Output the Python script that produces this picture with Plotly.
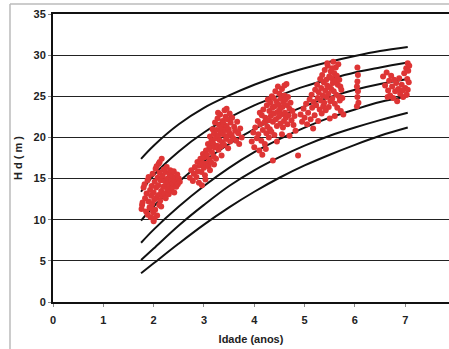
import plotly.graph_objects as go

# Site-index curves (ages and heights)
curve_ages = [1.75, 2.0, 2.5, 3.0, 3.5, 4.0, 4.5, 5.0, 5.5, 6.0, 6.5, 7.05]
curve_1 = [17.4, 19.0, 21.6, 23.6, 25.1, 26.4, 27.5, 28.4, 29.2, 29.9, 30.5, 31.0]
curve_2 = [13.4, 15.4, 18.3, 20.6, 22.4, 23.9, 25.1, 26.2, 27.1, 27.9, 28.5, 29.1]
curve_3 = [9.9, 11.6, 14.6, 17.1, 19.2, 21.0, 22.5, 23.8, 24.9, 25.8, 26.5, 27.1]
curve_4 = [7.2, 8.8, 11.6, 14.1, 16.3, 18.2, 19.8, 21.2, 22.4, 23.4, 24.3, 25.0]
curve_5 = [5.1, 6.5, 9.3, 11.8, 14.1, 16.0, 17.6, 19.0, 20.2, 21.2, 22.1, 23.0]
curve_6 = [3.5, 4.7, 7.1, 9.4, 11.5, 13.4, 15.1, 16.6, 17.9, 19.1, 20.2, 21.2]

# Observed plots: age (anos) and dominant height Hd (m)
obs_age = [
    1.76,1.77,1.78,1.80,1.82,1.83,1.85,1.86,1.88,1.88,1.90,1.90,1.92,1.93,1.94,1.95,1.96,1.97,1.98,1.99,
    2.00,2.00,2.01,2.02,2.03,2.04,2.05,2.06,2.07,2.08,2.09,2.10,2.10,2.11,2.12,2.13,2.14,2.15,2.16,2.17,
    2.18,2.19,2.20,2.21,2.22,2.23,2.24,2.25,2.26,2.27,2.28,2.29,2.30,2.31,2.32,2.33,2.34,2.35,2.36,2.37,
    2.38,2.40,2.41,2.42,2.44,2.45,2.47,2.48,2.50,2.52,2.12,2.06,1.95,2.02,2.15,
    2.72,2.75,2.78,2.80,2.82,2.85,2.87,2.88,2.90,2.92,2.93,2.95,2.97,2.98,3.00,3.01,3.02,3.04,3.05,3.06,
    3.08,3.09,3.10,3.11,3.12,3.13,3.14,3.15,3.16,3.17,3.18,3.19,3.20,3.21,3.22,3.23,3.24,3.25,3.26,3.27,
    3.28,3.29,3.30,3.31,3.32,3.33,3.34,3.35,3.36,3.37,3.38,3.39,3.40,3.41,3.42,3.43,3.44,3.45,3.46,3.47,
    3.48,3.49,3.50,3.51,3.52,3.53,3.55,3.56,3.58,3.60,3.62,3.64,3.66,3.68,3.70,3.72,3.75,3.12,3.20,3.35,
    3.03,2.96,3.28,3.45,
    3.95,3.98,4.00,4.02,4.05,4.07,4.08,4.10,4.12,4.14,4.15,4.17,4.18,4.20,4.21,4.22,4.24,4.25,4.26,4.27,
    4.28,4.29,4.30,4.31,4.32,4.33,4.34,4.35,4.36,4.37,4.37,4.38,4.39,4.40,4.41,4.42,4.43,4.44,4.45,4.46,
    4.47,4.48,4.49,4.50,4.51,4.52,4.53,4.54,4.55,4.56,4.57,4.58,4.59,4.60,4.61,4.62,4.63,4.64,4.65,4.66,
    4.67,4.68,4.70,4.72,4.74,4.76,4.78,4.80,4.82,4.87,4.16,4.23,4.11,4.45,4.55,4.70,4.60,
    4.92,4.95,4.98,5.00,5.03,5.05,5.07,5.10,5.12,5.14,5.15,5.17,5.18,5.20,5.21,5.23,5.25,5.26,5.27,5.28,
    5.30,5.31,5.32,5.33,5.34,5.35,5.36,5.37,5.38,5.39,5.40,5.41,5.42,5.43,5.44,5.45,5.46,5.47,5.48,5.49,
    5.50,5.51,5.52,5.53,5.54,5.55,5.56,5.57,5.58,5.59,5.60,5.61,5.62,5.63,5.64,5.65,5.66,5.67,5.68,5.69,
    5.70,5.71,5.72,5.73,5.75,5.77,5.60,5.50,5.45,5.55,
    6.05,6.06,6.05,6.04,6.06,6.05,6.07,6.04,
    6.56,6.60,6.63,6.66,6.68,6.70,6.72,6.74,6.76,6.78,6.80,6.82,6.84,6.86,6.88,6.90,6.93,6.96,6.98,7.00,
    7.02,7.03,7.04,7.05,7.06,7.07,7.05,7.08,6.95,6.65,
]
obs_hd = [
    11.3,11.8,12.1,13.9,14.3,12.6,11.0,13.2,10.6,14.8,12.2,15.2,11.5,13.6,10.3,12.9,14.1,11.9,15.6,10.9,
    9.8,13.3,12.4,14.6,11.2,16.2,13.9,12.7,10.5,15.1,14.2,13.0,16.8,11.8,15.7,12.3,14.8,13.5,17.4,12.9,
    15.3,14.0,16.1,13.2,14.7,15.8,12.6,14.3,16.4,13.7,15.0,14.5,13.1,15.6,14.1,16.0,13.5,14.8,15.3,13.9,
    14.4,15.9,13.3,14.7,15.2,14.0,15.5,14.3,15.0,14.6,17.0,16.5,11.4,10.2,11.6,
    15.1,16.0,14.7,15.6,16.4,15.2,17.0,15.9,14.5,16.6,17.4,15.8,16.9,18.0,16.3,17.6,15.4,18.4,16.8,17.9,
    19.2,16.5,18.6,17.3,20.1,18.9,17.0,19.6,18.2,21.0,19.3,17.7,20.5,18.8,21.8,19.9,17.4,20.9,19.0,22.3,
    20.2,18.5,21.5,19.7,22.8,20.7,18.9,21.2,19.4,22.0,20.4,21.7,19.1,23.3,20.9,22.5,19.8,21.4,20.1,22.2,
    18.7,21.0,20.6,22.9,19.5,21.8,20.3,22.4,19.9,21.3,20.8,19.6,21.9,20.5,19.2,21.1,20.0,16.0,16.7,17.8,
    14.9,14.2,23.0,23.5,
    19.5,20.6,18.8,21.2,19.9,22.0,20.4,18.4,21.6,19.6,22.7,20.9,23.4,21.8,19.2,22.4,20.5,23.9,21.3,24.6,
    22.1,20.0,23.2,21.0,24.2,22.6,20.7,25.0,23.6,17.2,21.9,24.8,22.9,20.3,23.8,25.6,22.2,24.4,21.4,23.1,
    26.2,24.0,22.5,25.3,23.4,21.7,24.7,22.8,25.9,23.7,21.2,24.3,22.0,25.1,23.0,24.6,22.4,26.5,23.9,21.6,
    24.9,22.7,23.5,24.2,22.1,23.2,21.5,22.6,20.8,17.8,17.9,18.6,23.0,19.5,20.4,20.2,26.3,
    22.8,21.9,23.5,22.4,24.1,21.6,23.0,24.6,22.2,25.2,23.6,21.1,24.3,22.7,25.8,23.9,26.4,24.8,22.0,25.5,
    23.4,27.1,24.5,26.0,22.9,27.6,25.1,23.8,26.7,24.2,28.2,25.7,23.3,27.0,24.9,26.3,28.7,25.3,23.7,27.4,
    26.1,24.4,28.0,25.9,27.2,24.7,26.6,29.2,25.6,27.8,24.1,26.9,28.5,25.2,27.5,23.6,26.4,28.9,25.0,27.0,
    24.5,26.2,23.2,25.8,24.8,22.8,22.6,22.3,29.0,28.4,
    28.5,27.6,26.8,26.2,25.6,24.9,24.2,23.8,
    27.4,26.3,27.9,25.7,26.9,25.1,27.5,26.2,24.8,27.0,25.6,26.6,24.4,25.9,27.2,25.3,26.4,24.9,27.8,26.0,
    28.4,25.2,27.1,29.0,28.1,26.7,25.8,28.7,25.7,24.9,
]

x_ticks = [0, 1, 2, 3, 4, 5, 6, 7]
y_ticks = [0, 5, 10, 15, 20, 25, 30, 35]

fig = go.Figure()

for c in [curve_1, curve_2, curve_3, curve_4, curve_5, curve_6]:
    fig.add_trace(go.Scatter(x=curve_ages, y=c, mode="lines",
                             line=dict(color="#111111", width=2, shape="spline"),
                             hoverinfo="skip", showlegend=False))

fig.add_trace(go.Scatter(x=obs_age, y=obs_hd, mode="markers",
                         marker=dict(color="#DE3535", size=6, line=dict(width=0)),
                         showlegend=False))

tick_font = dict(family="Liberation Sans, Arial, sans-serif", size=11, color="#222222", weight="bold")

fig.update_layout(
    width=449, height=349,
    margin=dict(l=53, r=0, t=14, b=47),
    paper_bgcolor="white", plot_bgcolor="white",
    xaxis=dict(range=[0, 7.87], tickvals=x_ticks, ticktext=[str(v) for v in x_ticks],
               showgrid=False, zeroline=False, showline=True, linecolor="#111111", linewidth=2,
               mirror=True, ticks="outside", ticklen=3, tickcolor="#888888",
               tickfont=tick_font, ticklabelstandoff=4,
               title=dict(text="Idade (anos)", font=dict(family="Liberation Sans, Arial, sans-serif",
                                                         size=11, color="#222222", weight="bold"),
                          standoff=10)),
    yaxis=dict(range=[0, 35], tickvals=y_ticks, ticktext=[str(v) for v in y_ticks],
               showgrid=True, gridcolor="#222222", gridwidth=1.2, zeroline=False,
               showline=True, linecolor="#111111", linewidth=2, mirror=False,
               ticks="outside", ticklen=3, tickcolor="#888888",
               tickfont=tick_font,
               title=dict(text="H d ( m )", font=dict(family="Liberation Sans, Arial, sans-serif",
                                                      size=11, color="#222222", weight="bold"),
                          standoff=9)),
    shapes=[
        dict(type="line", xref="paper", yref="paper", x0=-0.1086, x1=1.0, y0=1.0347, y1=1.0347,
             line=dict(color="#BBBBBB", width=1.5)),
        dict(type="line", xref="paper", yref="paper", x0=-0.1086, x1=-0.1086, y0=1.0347, y1=-0.17,
             line=dict(color="#BBBBBB", width=1.5)),
    ],
)

fig.write_html("out.html")
